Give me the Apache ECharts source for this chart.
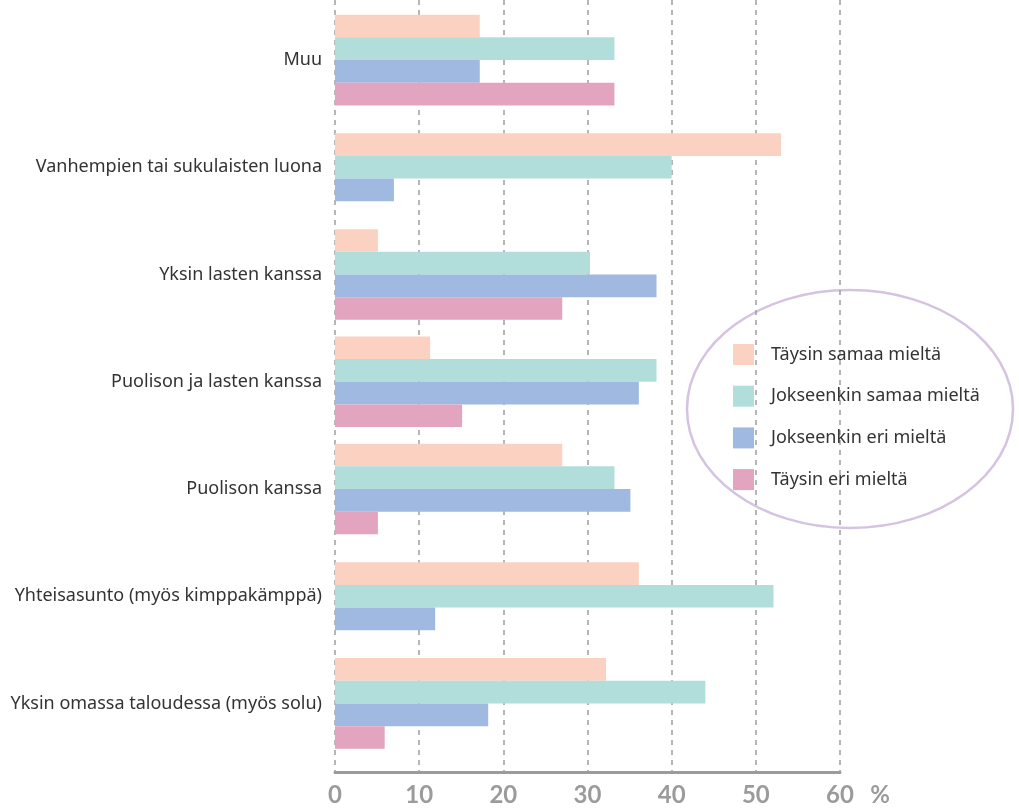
<!DOCTYPE html>
<html>
<head>
<meta charset="utf-8">
<script src="https://cdn.jsdelivr.net/npm/echarts@6/dist/echarts.min.js"></script>
<style>
html,body{margin:0;padding:0;background:#fff;}
#chart{width:1019px;height:808px;}
</style>
</head>
<body>
<div id="chart"></div>
<script>
var categories = [
  'Muu',
  'Vanhempien tai sukulaisten luona',
  'Yksin lasten kanssa',
  'Puolison ja lasten kanssa',
  'Puolison kanssa',
  'Yhteisasunto (myös kimppakämppä)',
  'Yksin omassa taloudessa (myös solu)'
];
var seriesNames = ['Täysin samaa mieltä', 'Jokseenkin samaa mieltä', 'Jokseenkin eri mieltä', 'Täysin eri mieltä'];
var taysinSamaa     = [17.2, 53.0, 5.1, 11.3, 27.0, 36.1, 32.2];
var jokseenkinSamaa = [33.2, 40.0, 30.3, 38.2, 33.2, 52.1, 44.0];
var jokseenkinEri   = [17.2, 7.0, 38.2, 36.1, 35.1, 11.9, 18.2];
var taysinEri       = [33.2, null, 27.0, 15.1, 5.1, null, 5.9];
var xTicks = [0, 10, 20, 30, 40, 50, 60];

var colors = ['#fbd2c1', '#b1dedb', '#9fb9e0', '#e3a4bf'];
var allSeries = [taysinSamaa, jokseenkinSamaa, jokseenkinEri, taysinEri];
var FONT = '"Noto Sans", "Open Sans", sans-serif';
var TICKFONT = 'Lato, "Noto Sans", sans-serif';

function present(c) {
  var r = [];
  for (var s = 0; s < allSeries.length; s++) {
    if (allSeries[s][c] != null) r.push(s);
  }
  return r;
}

function makeRender(sIdx) {
  return function (params, api) {
    var c = api.value(1);
    var v = api.value(0);
    var list = present(c);
    var pos = list.indexOf(sIdx);
    var band = api.size([0, 1])[1];
    var h = band * 0.2115;
    var p0 = api.coord([0, c]);
    var p1 = api.coord([v, c]);
    var top = p0[1] - list.length * h / 2 + pos * h;
    return {
      type: 'rect',
      shape: { x: p0[0], y: top, width: p1[0] - p0[0], height: h },
      style: { fill: colors[sIdx] }
    };
  };
}

var series = allSeries.map(function (arr, s) {
  var data = [];
  arr.forEach(function (v, c) { if (v != null) data.push([v, c]); });
  return {
    type: 'custom',
    name: seriesNames[s],
    xAxisIndex: 0,
    yAxisIndex: 0,
    encode: { x: 0, y: 1 },
    itemStyle: { color: colors[s] },
    renderItem: makeRender(s),
    data: data,
    z: 3
  };
});

var chart = echarts.init(document.getElementById('chart'), null, { renderer: 'canvas' });
chart.setOption({
  animation: false,
  backgroundColor: '#fff',
  textStyle: { fontFamily: FONT },
  grid: [
    { left: 335, width: 505, top: 6.4, height: 750.7 },
    { left: 335, width: 505, top: 0, height: 772 }
  ],
  xAxis: [
    { type: 'value', gridIndex: 0, min: 0, max: 60, interval: 10, show: false, splitLine: { show: false } },
    {
      type: 'value', gridIndex: 1, min: 0, max: 60, interval: 10,
      axisLine: { show: true, lineStyle: { color: '#9b9b9b', width: 3 } },
      axisTick: { show: false },
      splitLine: { show: true, lineStyle: { color: '#9e9e9e', width: 1.5, type: [5, 5] } },
      axisLabel: { fontSize: 24, color: '#9b9b9b', fontWeight: 'bold', margin: 11, fontFamily: TICKFONT,
        formatter: function (v) { return xTicks.indexOf(v) >= 0 ? String(v) : ''; } }
    }
  ],
  yAxis: [
    {
      type: 'category', gridIndex: 0, data: categories, inverse: true,
      axisLine: { show: false }, axisTick: { show: false },
      axisLabel: { fontSize: 18, color: '#333', margin: 13, fontFamily: FONT }
    },
    { type: 'value', gridIndex: 1, show: false, splitLine: { show: false } }
  ],
  legend: {
    orient: 'vertical',
    left: 733,
    top: 344,
    padding: 0,
    itemWidth: 21,
    itemHeight: 21,
    itemGap: 20.7,
    icon: 'rect',
    data: seriesNames,
    textStyle: { fontSize: 18, color: '#333', fontFamily: FONT, padding: [0, 0, 0, 12] }
  },
  graphic: [
    {
      type: 'ellipse',
      shape: { cx: 850, cy: 409, rx: 163, ry: 119 },
      style: { fill: 'none', stroke: '#d5c3e1', lineWidth: 2.5 },
      silent: true,
      z: 0
    },
    {
      type: 'text',
      x: 880, y: 795,
      style: { text: '%', fontSize: 24, fill: '#9b9b9b', fontWeight: 'bold', fontFamily: TICKFONT, align: 'center', verticalAlign: 'middle' }
    }
  ],
  series: series
});
</script>
</body>
</html>
